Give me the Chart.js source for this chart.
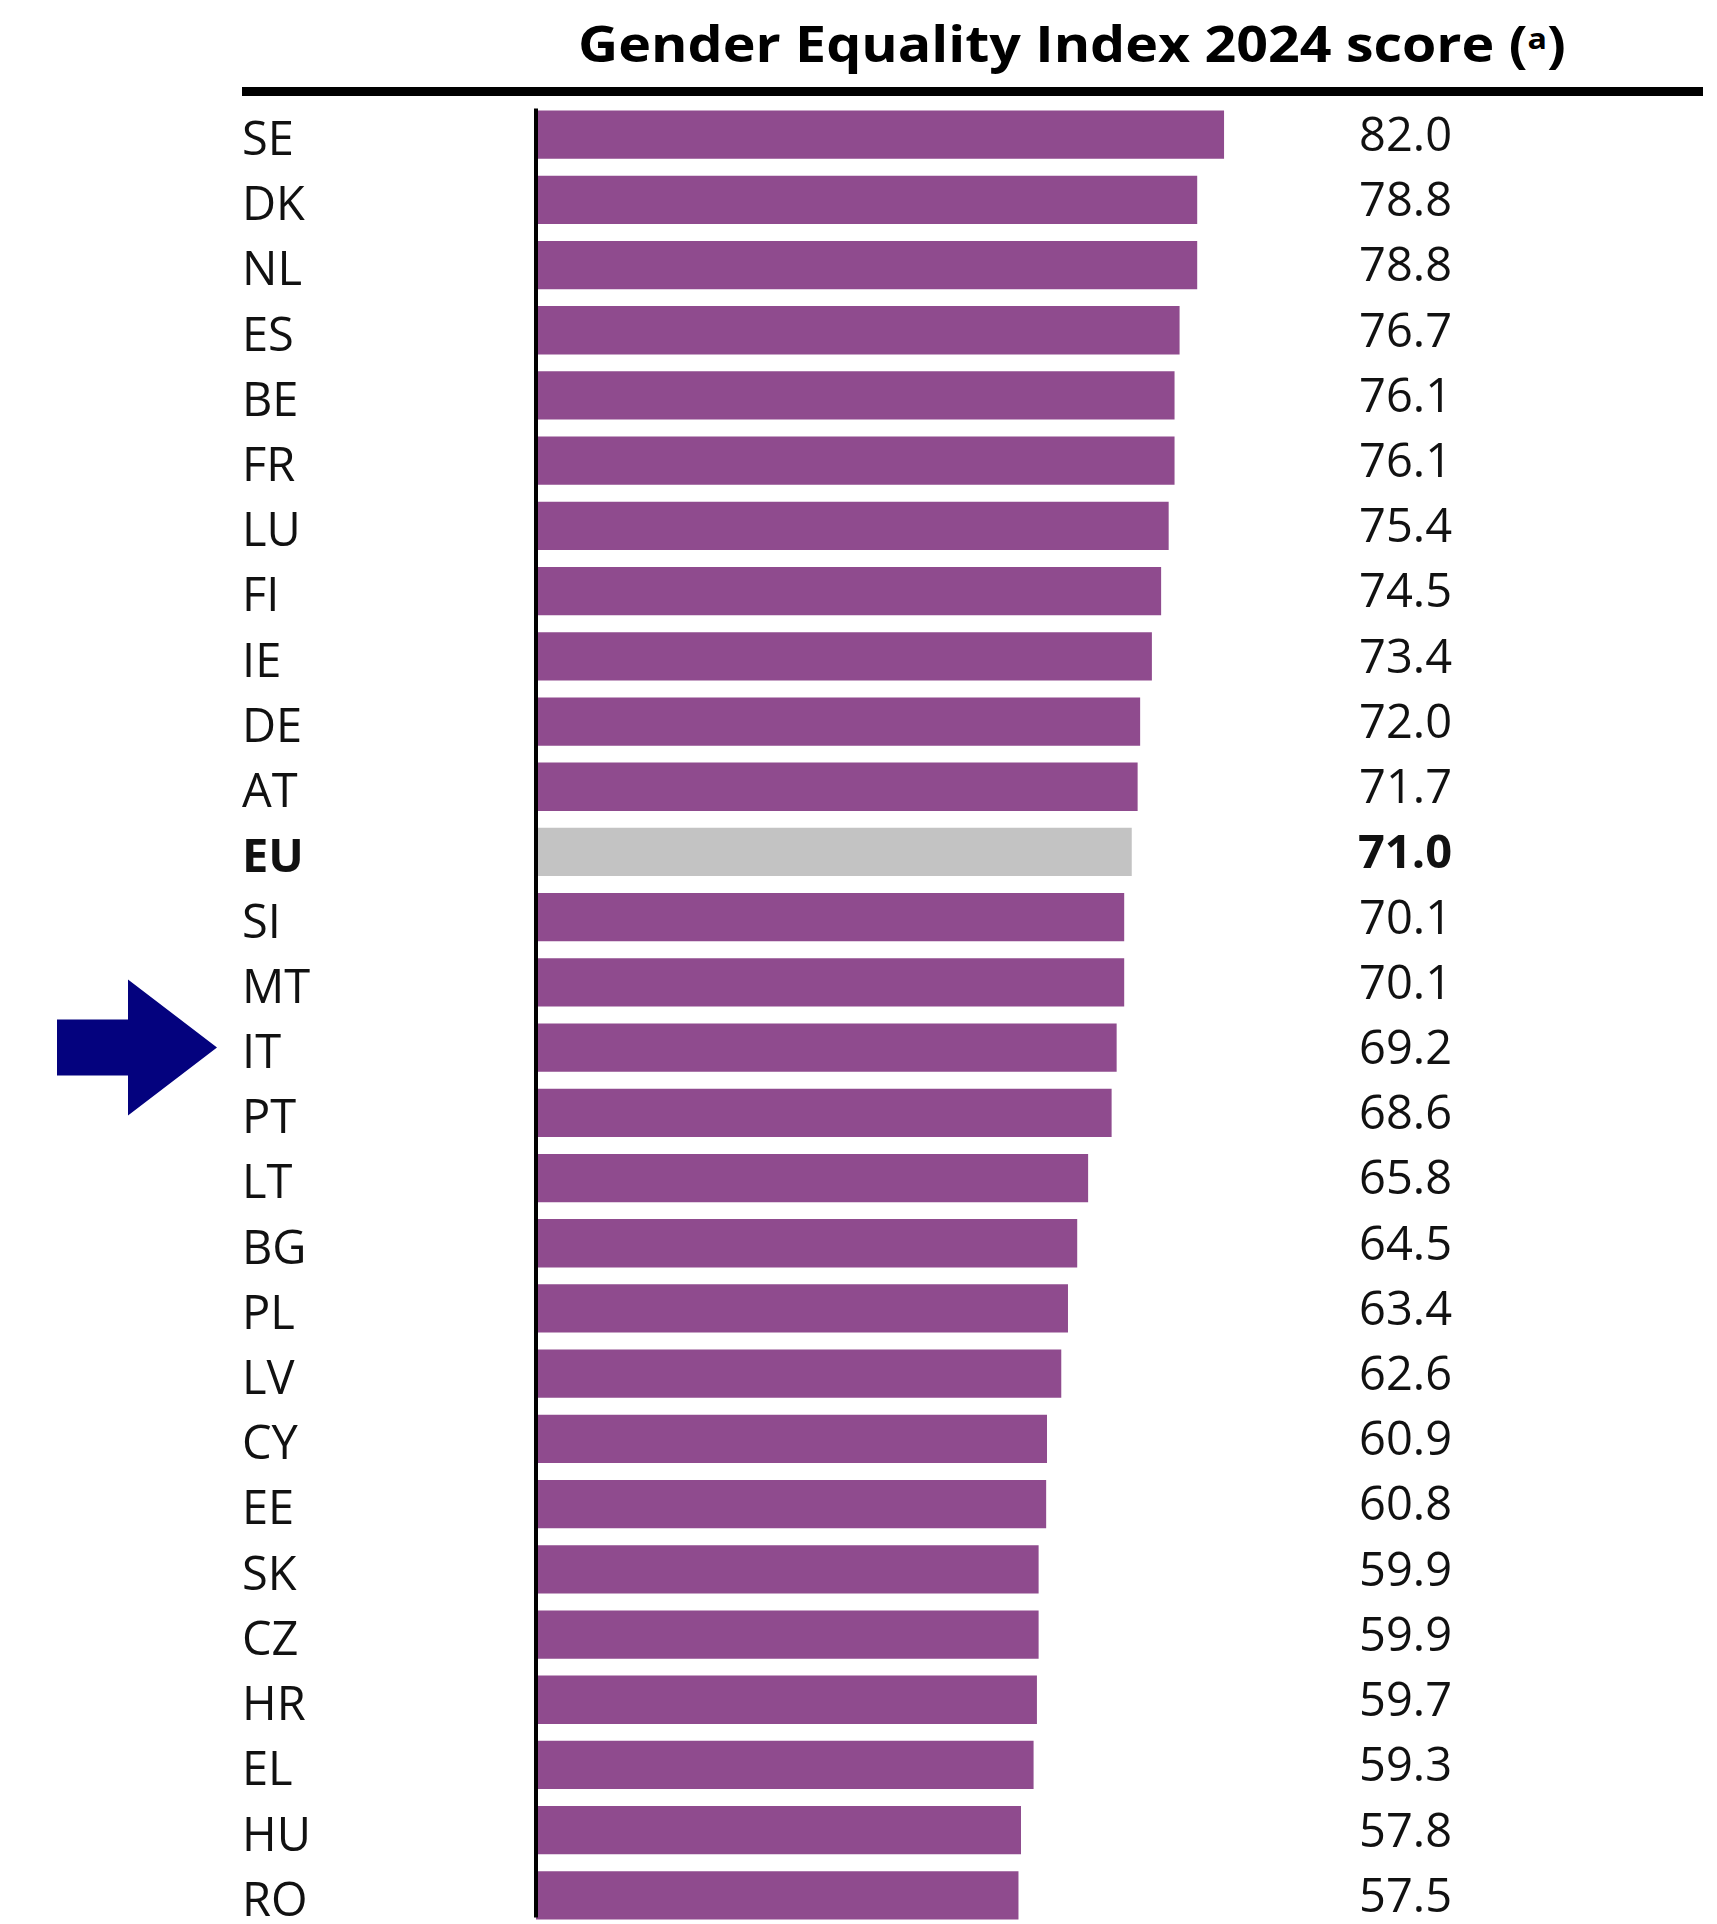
<!DOCTYPE html>
<html>
<head>
<meta charset="utf-8">
<title>Gender Equality Index 2024 score</title>
<script src="https://cdn.jsdelivr.net/npm/chart.js@4/dist/chart.umd.min.js"></script>
<style>
    html, body { margin: 0; padding: 0; background: #fff; }
    #page { position: relative; width: 1717px; height: 1924px; overflow: hidden; background: #fff; }
    #chart-title {
        position: absolute; left: 427px; top: 13px; width: 1290px;
        text-align: center; font: bold 50px 'Open Sans', sans-serif; line-height: 60px; color: #000;
        white-space: nowrap; transform: scaleX(1.11); transform-origin: 50% 50%;
    }
    #chart-title .sup { position: relative; top: -13px; font-size: 29px; }
    #title-rule { position: absolute; left: 242px; top: 87px; width: 1461px; height: 9px; background: #000; }
    #gei-chart { position: absolute; left: 0; top: 0; }
</style>
</head>
<body>
<div id="page">
    <div id="chart-title">Gender Equality Index 2024 score (<span class="sup">a</span>)</div>
    <div id="title-rule"></div>
    <canvas id="gei-chart" width="1717" height="1928"></canvas>
</div>

<script>
// Data
const countries = ['SE', 'DK', 'NL', 'ES', 'BE', 'FR', 'LU', 'FI', 'IE', 'DE', 'AT', 'EU', 'SI', 'MT',
    'IT', 'PT', 'LT', 'BG', 'PL', 'LV', 'CY', 'EE', 'SK', 'CZ', 'HR', 'EL', 'HU', 'RO'];
const scores = [82.0, 78.8, 78.8, 76.7, 76.1, 76.1, 75.4, 74.5, 73.4, 72.0, 71.7, 71.0, 70.1, 70.1,
    69.2, 68.6, 65.8, 64.5, 63.4, 62.6, 60.9, 60.8, 59.9, 59.9, 59.7, 59.3, 57.8, 57.5];
const averageLabel = 'EU';
const markedCountry = 'IT';

/**
 * GenderIndexChart Module
 * Horizontal bar chart with value column and a pointer arrow
 */
const GenderIndexChart = (function() {
    'use strict';

    let config = {
        selector: '#gei-chart',
        fontFamily: "'Open Sans', sans-serif",
        fontSize: 47,
        textColor: '#111',
        barColor: '#8f4b8e',
        averageColor: '#c3c3c3',
        arrowColor: '#04027e',
        labelShift: 7,
        valueShift: 3,
        chart: null
    };

    function isAverage(index) {
        return countries[index] === averageLabel;
    }

    function fontFor(index) {
        const weight = isAverage(index) ? 'bold' : 'normal';
        return weight + ' ' + config.fontSize + 'px ' + config.fontFamily;
    }

    /**
     * Draws the axis line, category labels, the value column and the arrow
     */
    const decorations = {
        id: 'decorations',
        afterDatasetsDraw(chart) {
            const ctx = chart.ctx;
            const area = chart.chartArea;
            const bars = chart.getDatasetMeta(0).data;
            const yScale = chart.scales.y;

            // vertical axis line
            const first = bars[0];
            const last = bars[bars.length - 1];
            ctx.save();
            ctx.strokeStyle = '#000';
            ctx.lineWidth = 4;
            ctx.beginPath();
            ctx.moveTo(area.left, first.y - first.height / 2 - 2);
            ctx.lineTo(area.left, last.y + last.height / 2 - 2);
            ctx.stroke();

            ctx.fillStyle = config.textColor;
            ctx.textBaseline = 'middle';

            // category labels, left aligned at the axis box edge
            ctx.textAlign = 'left';
            yScale.ticks.forEach(function(tick, i) {
                ctx.font = fontFor(i);
                ctx.fillText(yScale.getLabelForValue(tick.value), yScale.left, yScale.getPixelForTick(i) + config.labelShift);
            });

            // values on the right
            ctx.textAlign = 'right';
            bars.forEach(function(bar, i) {
                ctx.font = fontFor(i);
                ctx.fillText(scores[i].toFixed(1), area.right - 7, bar.y + config.valueShift);
            });

            // arrow pointing at the marked country
            const y = yScale.getPixelForValue(countries.indexOf(markedCountry));
            const x0 = yScale.left;
            ctx.fillStyle = config.arrowColor;
            ctx.beginPath();
            ctx.moveTo(x0 - 185, y - 28);
            ctx.lineTo(x0 - 114, y - 28);
            ctx.lineTo(x0 - 114, y - 68);
            ctx.lineTo(x0 - 25, y);
            ctx.lineTo(x0 - 114, y + 68);
            ctx.lineTo(x0 - 114, y + 28);
            ctx.lineTo(x0 - 185, y + 28);
            ctx.closePath();
            ctx.fill();
            ctx.restore();
        }
    };

    function initialize() {
        const canvas = document.querySelector(config.selector);
        config.chart = new Chart(canvas, {
            type: 'bar',
            data: {
                labels: countries,
                datasets: [{
                    data: scores,
                    backgroundColor: function(c) {
                        return isAverage(c.dataIndex) ? config.averageColor : config.barColor;
                    },
                    borderWidth: 0,
                    barPercentage: 0.74,
                    categoryPercentage: 1
                }]
            },
            options: {
                indexAxis: 'y',
                responsive: false,
                animation: false,
                layout: {
                    padding: { left: 242, top: 102, right: 258, bottom: 0 }
                },
                plugins: {
                    legend: { display: false },
                    tooltip: { enabled: false },
                    title: { display: false }
                },
                scales: {
                    x: {
                        display: false,
                        min: 0,
                        max: 110
                    },
                    y: {
                        grid: { display: false, drawTicks: false },
                        border: { display: false },
                        ticks: { display: false, autoSkip: false },
                        afterFit: function(scale) {
                            scale.width = 294;
                            scale.paddingTop = 0;
                            scale.paddingBottom = 0;
                        }
                    }
                }
            },
            plugins: [decorations]
        });
    }

    return { initialize };
})();

GenderIndexChart.initialize();
</script>
</body>
</html>
